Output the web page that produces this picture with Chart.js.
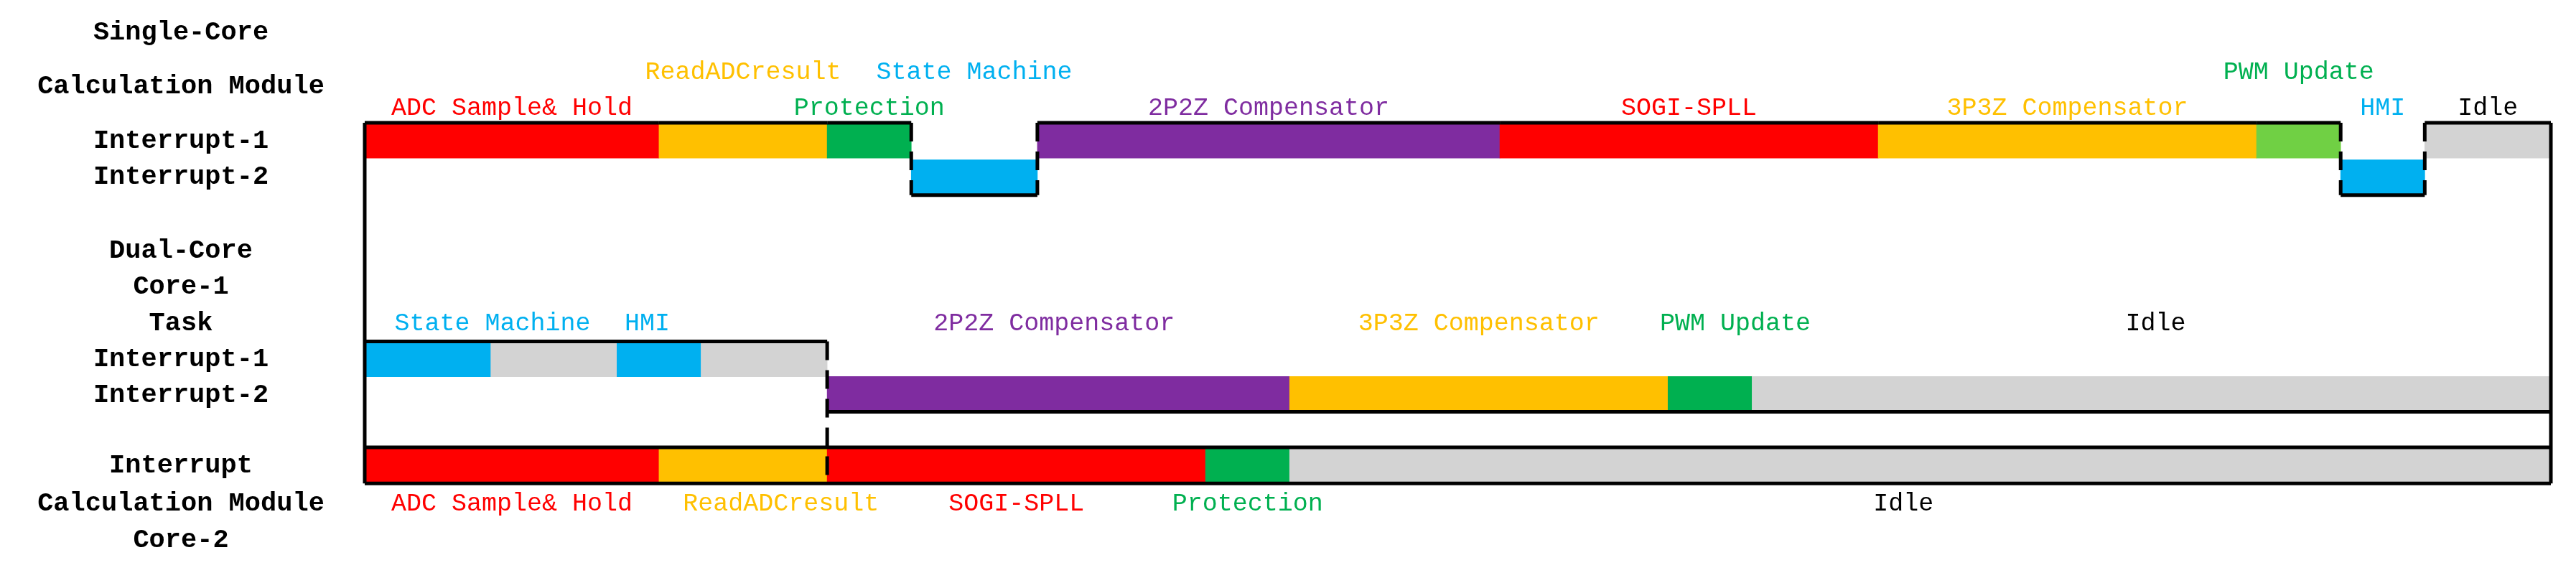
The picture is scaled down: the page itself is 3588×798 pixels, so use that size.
<!DOCTYPE html>
<html>
<head>
<meta charset="utf-8">
<script src="https://cdn.jsdelivr.net/npm/chart.js@4.4.0/dist/chart.umd.min.js"></script>
<style>
  html, body { margin: 0; padding: 0; background: #fff; }
  #wrap { width: 3588px; height: 798px; }
</style>
</head>
<body>
<div id="wrap"><canvas id="timing"></canvas></div>
<script>
// colours
const RED = '#ff0000', ORANGE = '#ffc000', GREEN = '#00b050', LIME = '#70d044',
      BLUE = '#00b0f0', PURPLE = '#7f2ca0', GRAY = '#d3d3d3', BLACK = '#000000';

// single-core: task names, durations (time units), lane (1 = Interrupt-1, 2 = Interrupt-2)
const singleTasks = ['ADC Sample& Hold', 'ReadADCresult', 'Protection', 'State Machine', '2P2Z Compensator',
                     'SOGI-SPLL', '3P3Z Compensator', 'PWM Update', 'HMI', 'Idle'];
const singleDur   = [3.5, 2, 1, 1.5, 5.5, 4.5, 4.5, 1, 1, 1.5];
const singleLane  = [1, 1, 1, 2, 1, 1, 1, 1, 2, 1];
const singleColor = [RED, ORANGE, GREEN, BLUE, PURPLE, RED, ORANGE, LIME, BLUE, GRAY];
const singleTextColor = [RED, ORANGE, GREEN, BLUE, PURPLE, RED, ORANGE, GREEN, BLUE, BLACK];
const singleLabelRow  = [0, 1, 0, 1, 0, 0, 0, 1, 0, 0]; // 1 = upper label row

// dual-core, core-1
const core1Tasks = ['State Machine', '', 'HMI', '', '2P2Z Compensator', '3P3Z Compensator', 'PWM Update', 'Idle'];
const core1Dur   = [1.5, 1.5, 1, 1.5, 5.5, 4.5, 1, 9.5];
const core1Lane  = [1, 1, 1, 1, 2, 2, 2, 2];
const core1Color = [BLUE, GRAY, BLUE, GRAY, PURPLE, ORANGE, GREEN, GRAY];
const core1TextColor = [BLUE, BLACK, BLUE, BLACK, PURPLE, ORANGE, GREEN, BLACK];
const core1LabelT = [1.52, 0, 3.36, 0, 8.2, 13.25, 16.3, 21.3];

// dual-core, core-2
const core2Tasks = ['ADC Sample& Hold', 'ReadADCresult', 'SOGI-SPLL', 'Protection', 'Idle'];
const core2Dur   = [3.5, 2, 4.5, 1, 15];
const core2Color = [RED, ORANGE, RED, GREEN, GRAY];
const core2TextColor = [RED, ORANGE, RED, GREEN, BLACK];
const core2LabelT = [1.75, 4.95, 7.75, 10.5, 18.3];

// row labels on the left
const rowLabels = ['Single-Core', 'Calculation Module', 'Interrupt-1', 'Interrupt-2',
                   'Dual-Core', 'Core-1', 'Task', 'Interrupt-1', 'Interrupt-2',
                   'Interrupt', 'Calculation Module', 'Core-2'];
const rowLabelY = [0.9, 2.4, 3.9, 4.9, 6.95, 7.95, 8.95, 9.95, 10.95, 12.9, 13.95, 14.95];

// lane centres on the y axis (rows)
const LANE = { s1: 3.9, s2: 4.9, d1: 9.95, d2: 10.9, c2: 12.88 };
const TOTAL = 26;

function starts(dur) {
  const out = []; let t = 0;
  dur.forEach(d => { out.push(t); t += d; });
  return out;
}
const singleStart = starts(singleDur);
const core1Start = starts(core1Dur);
const core2Start = starts(core2Dur);

const singleData = singleDur.map((d, i) => ({ x: [singleStart[i], singleStart[i] + d], y: singleLane[i] === 1 ? LANE.s1 : LANE.s2 }));
const core1Data = core1Dur.map((d, i) => ({ x: [core1Start[i], core1Start[i] + d], y: core1Lane[i] === 1 ? LANE.d1 : LANE.d2 }));
const core2Data = core2Dur.map((d, i) => ({ x: [core2Start[i], core2Start[i] + d], y: LANE.c2 }));

const LABEL_FONT = '35px "Liberation Mono", monospace';
const ROW_FONT = 'bold 37px "Liberation Mono", monospace';

// outlines, dashed transitions and all texts
const overlay = {
  id: 'overlay',
  afterDatasetsDraw(chart) {
    const { ctx, scales: { x, y } } = chart;
    const X = v => x.getPixelForValue(v), Y = v => y.getPixelForValue(v);
    const h = 0.5;
    function line(x0, y0, x1, y1, dashed) {
      ctx.save();
      ctx.strokeStyle = BLACK;
      ctx.lineWidth = 5;
      ctx.setLineDash(dashed ? [26, 14] : []);
      ctx.beginPath();
      ctx.moveTo(X(x0), Y(y0));
      ctx.lineTo(X(x1), Y(y1));
      ctx.stroke();
      ctx.restore();
    }
    // single core outline
    const sTop = LANE.s1 - h, sBot = LANE.s2 + h;
    let t = 0;
    singleDur.forEach((d, i) => {
      if (singleLane[i] === 1) line(t, sTop, t + d, sTop, false);
      else {
        line(t, sBot, t + d, sBot, false);
        line(t, sTop, t, sBot, true);
        line(t + d, sTop, t + d, sBot, true);
      }
      t += d;
    });
    // frame sides
    line(0, sTop, 0, LANE.c2 + h, false);
    line(TOTAL, sTop, TOTAL, LANE.c2 + h, false);
    // dual core, core-1
    const dTop = LANE.d1 - h, dBot = LANE.d2 + h;
    const switchT = core1Dur.slice(0, 4).reduce((a, b) => a + b, 0);
    line(0, dTop, switchT, dTop, false);
    line(switchT, dBot, TOTAL, dBot, false);
    // core-2
    line(0, LANE.c2 - h, TOTAL, LANE.c2 - h, false);
    line(0, LANE.c2 + h, TOTAL, LANE.c2 + h, false);
    line(switchT, dTop, switchT, LANE.c2 + h, true);

    // texts
    ctx.save();
    ctx.textAlign = 'center';
    ctx.textBaseline = 'middle';
    ctx.font = LABEL_FONT;
    singleTasks.forEach((s, i) => {
      ctx.fillStyle = singleTextColor[i];
      ctx.fillText(s, X(singleStart[i] + singleDur[i] / 2), Y(singleLabelRow[i] ? 2.0 : 3.0));
    });
    core1Tasks.forEach((s, i) => {
      if (!s) return;
      ctx.fillStyle = core1TextColor[i];
      ctx.fillText(s, X(core1LabelT[i]), Y(8.95));
    });
    core2Tasks.forEach((s, i) => {
      ctx.fillStyle = core2TextColor[i];
      ctx.fillText(s, X(core2LabelT[i]), Y(13.95));
    });
    ctx.font = ROW_FONT;
    ctx.fillStyle = BLACK;
    rowLabels.forEach((s, i) => ctx.fillText(s, 252, Y(rowLabelY[i])));
    ctx.restore();
  }
};

const ctx = document.getElementById('timing').getContext('2d');
const timingChart = new Chart(ctx, {
  type: 'bar',
  data: {
    datasets: [
      { data: singleData, backgroundColor: singleColor, barThickness: 48, grouped: false },
      { data: core1Data, backgroundColor: core1Color, barThickness: 48, grouped: false },
      { data: core2Data, backgroundColor: core2Color, barThickness: 50, grouped: false },
    ],
  },
  options: {
    indexAxis: 'y',
    responsive: true,
    maintainAspectRatio: false,
    animation: false,
    layout: { padding: { left: 508, right: 35, top: 0, bottom: 0 } },
    plugins: { legend: { display: false }, tooltip: { enabled: false } },
    scales: {
      x: { type: 'linear', min: 0, max: TOTAL, display: false, offset: false },
      y: { type: 'linear', min: 0, max: 15.86, reverse: true, display: false, offset: false },
    },
  },
  plugins: [overlay],
});
</script>
</body>
</html>
